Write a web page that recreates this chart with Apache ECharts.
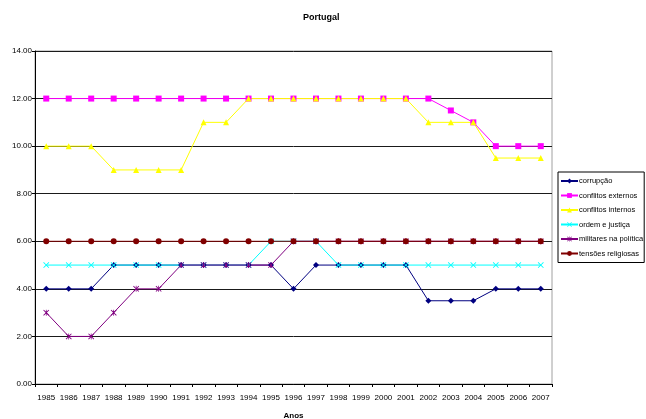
<!DOCTYPE html>
<html>
<head>
<meta charset="utf-8">
<script src="https://cdn.jsdelivr.net/npm/echarts@6/dist/echarts.min.js"></script>
<style>
  html, body { margin: 0; padding: 0; background: #fff; }
  #chart { width: 646px; height: 419px; }
</style>
</head>
<body>
<div id="chart"></div>
<script>
// Years on the category axis
const anos = ['1985','1986','1987','1988','1989','1990','1991','1992','1993','1994','1995','1996',
              '1997','1998','1999','2000','2001','2002','2003','2004','2005','2006','2007'];

// Series values, one per year
const corrupcao          = [4,4,4,5,5,5,5,5,5,5,5,4,5,5,5,5,5,3.5,3.5,3.5,4,4,4];
const conflitosExternos  = [12,12,12,12,12,12,12,12,12,12,12,12,12,12,12,12,12,12,11.5,11,10,10,10];
const conflitosInternos  = [10,10,10,9,9,9,9,11,11,12,12,12,12,12,12,12,12,11,11,11,9.5,9.5,9.5];
const ordemJustica       = [5,5,5,5,5,5,5,5,5,5,6,6,6,5,5,5,5,5,5,5,5,5,5];
const militaresPolitica  = [3,2,2,3,4,4,5,5,5,5,5,6,6,6,6,6,6,6,6,6,6,6,6];
const tensoesReligiosas  = [6,6,6,6,6,6,6,6,6,6,6,6,6,6,6,6,6,6,6,6,6,6,6];

// Y-axis tick values
const yTicks = [0, 2, 4, 6, 8, 10, 12, 14];

const FONT = '"Liberation Sans Narrow", "Liberation Sans", Arial, sans-serif';

// Marker shapes
const crossPath = 'path://M0,1L1,0L5,4L9,0L10,1L6,5L10,9L9,10L5,6L1,10L0,9L4,5Z';
const starPath  = 'path://M0,1L1,0L5,4L9,0L10,1L6,5L10,9L9,10L5,6L1,10L0,9L4,5Z M4.4,0L5.6,0L5.6,10L4.4,10Z';

function line(name, data, color, symbol, size) {
  return {
    name, type: 'line', data,
    symbol, symbolSize: size,
    lineStyle: { color, width: 1 },
    itemStyle: { color },
    emphasis: { disabled: true },
    animation: false
  };
}

const chart = echarts.init(document.getElementById('chart'), null, { renderer: 'canvas' });
chart.setOption({
  backgroundColor: '#fff',
  animation: false,
  title: {
    text: 'Portugal',
    left: 298, top: 8,
    textStyle: { fontFamily: FONT, fontSize: 9, fontWeight: 'bold', color: '#000' }
  },
  grid: {
    left: 35, right: 94, top: 51, bottom: 35,
    outerBoundsMode: 'none',
    containLabel: false,
    show: true, borderColor: '#a0a0a0', borderWidth: 1, backgroundColor: '#fff'
  },
  legend: {
    orient: 'vertical',
    left: 558, top: 172,
    padding: [5, 1, 5, 2],
    itemGap: 6.5,
    itemWidth: 17, itemHeight: 6,
    borderColor: '#000', borderWidth: 1, borderRadius: 0,
    backgroundColor: '#fff',
    textStyle: { fontFamily: FONT, fontSize: 7.5, color: '#000', padding: [0, 0, 0, -4] },
    data: ['corrupção','conflitos externos','conflitos internos','ordem e justiça','militares na política','tensões religiosas']
  },
  xAxis: {
    type: 'category',
    data: anos,
    boundaryGap: true,
    name: 'Anos',
    nameLocation: 'middle',
    nameGap: 28,
    nameTextStyle: { fontFamily: FONT, fontSize: 8, fontWeight: 'bold', color: '#000' },
    axisLine: { lineStyle: { color: '#000', width: 1 } },
    axisTick: { show: true, length: 3, inside: false, alignWithLabel: false, lineStyle: { color: '#000' } },
    axisLabel: { fontFamily: FONT, fontSize: 8, color: '#000', margin: 10, interval: 0 },
    splitLine: { show: false }
  },
  yAxis: {
    type: 'value',
    min: yTicks[0], max: yTicks[yTicks.length - 1], interval: 2,
    axisLine: { show: true, lineStyle: { color: '#000', width: 1 } },
    axisTick: { show: true, length: 3, lineStyle: { color: '#000' } },
    axisLabel: {
      fontFamily: FONT, fontSize: 8, color: '#000', margin: 3,
      formatter: v => v.toFixed(2)
    },
    splitLine: { show: true, lineStyle: { color: '#1a1a1a', width: 1 } }
  },
  series: [
    line('corrupção', corrupcao, '#000080', 'diamond', 6),
    line('conflitos externos', conflitosExternos, '#ff00ff', 'rect', 6),
    line('conflitos internos', conflitosInternos, '#ffff00', 'triangle', 6),
    line('ordem e justiça', ordemJustica, '#00ffff', crossPath, 6),
    line('militares na política', militaresPolitica, '#800080', starPath, 6),
    line('tensões religiosas', tensoesReligiosas, '#800000', 'circle', 6)
  ]
});
</script>
</body>
</html>
